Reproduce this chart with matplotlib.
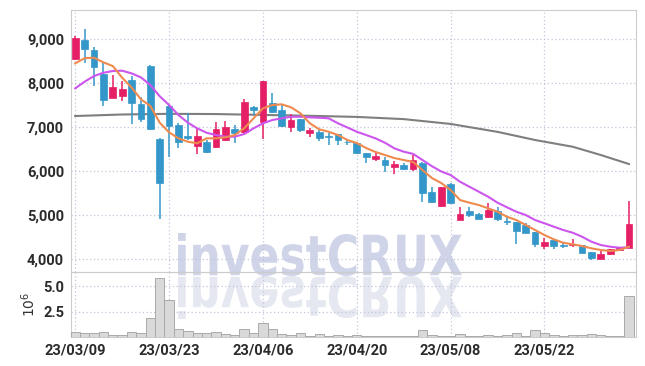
import matplotlib
matplotlib.use('Agg')
import matplotlib.pyplot as plt
import numpy as np
from matplotlib.textpath import TextPath
from matplotlib.patches import PathPatch, Rectangle
from matplotlib.font_manager import FontProperties
from matplotlib.transforms import Affine2D, IdentityTransform

# ---- data ----
opens = [8539, 8977, 8750, 8205, 7666, 7711, 8068, 7523, 8386, 6727,
         7477, 7045, 6795, 6575, 6666, 6539, 6705, 6948, 6880, 7448,
         7107, 7539, 7386, 6993, 7182, 6870, 6893, 6795, 6841, 6666,
         6630, 6416, 6266, 6250, 6098, 6136, 6045, 6189, 5530, 5211,
         5705, 4886, 5091, 5016, 4961, 5091, 4875, 4834, 4773, 4620,
         4302, 4432, 4318, 4311, 4318, 4166, 3993, 4107, 4205, 4243]
highs = [9060, 9225, 8810, 8461, 8175, 8039, 8166, 7689, 8409, 6740,
         7490, 7098, 7311, 6984, 6705, 7107, 7143, 7045, 7636, 7484,
         8050, 7766, 7516, 7295, 7190, 6970, 6932, 6857, 6845, 6727,
         6640, 6420, 6439, 6325, 6227, 6175, 6364, 6195, 5630, 5640,
         5720, 5175, 5175, 5040, 5266, 5175, 4984, 4840, 4811, 4625,
         4470, 4435, 4393, 4447, 4320, 4170, 4205, 4230, 4280, 5325]
lows = [8520, 8455, 7932, 7477, 7650, 7584, 7061, 7107, 6940, 4902,
        6325, 6516, 6705, 6380, 6400, 6516, 6690, 6630, 6857, 7273,
        6727, 7311, 6993, 6880, 6893, 6780, 6690, 6591, 6584, 6591,
        6390, 6175, 6227, 5984, 5932, 6023, 6007, 5289, 5280, 5175,
        5260, 4880, 4961, 4909, 4940, 4870, 4773, 4341, 4584, 4266,
        4220, 4220, 4243, 4280, 4130, 3977, 3990, 4090, 4200, 4240]
closes = [9030, 8780, 8370, 7614, 7902, 7864, 7539, 7182, 6948, 5734,
          7030, 6666, 6750, 6795, 6439, 6955, 6993, 6857, 7575, 7393,
          8045, 7334, 7030, 7159, 6932, 6932, 6757, 6773, 6705, 6652,
          6402, 6325, 6341, 6136, 6159, 6045, 6250, 5493, 5289, 5630,
          5266, 5016, 5000, 4909, 5114, 4909, 4852, 4643, 4598, 4341,
          4393, 4302, 4302, 4341, 4130, 4030, 4114, 4220, 4266, 4795]
volumes = [0.46, 0.36, 0.36, 0.46, 0.16, 0.16, 0.46, 0.36, 1.9, 5.8,
           3.6, 0.82, 0.56, 0.36, 0.36, 0.46, 0.26, 0.16, 0.76, 0.36,
           1.41, 0.82, 0.26, 0.16, 0.36, 0.07, 0.26, 0.07, 0.16, 0.07,
           0.16, 0.07, 0.07, 0.07, 0.07, 0.07, 0.07, 0.66, 0.16, 0.07,
           0.07, 0.26, 0.07, 0.07, 0.16, 0.07, 0.16, 0.36, 0.07, 0.66,
           0.36, 0.16, 0.07, 0.16, 0.16, 0.26, 0.16, 0.07, 0.07, 4.0]
ma_short = [8447, 8565, 8575, 8470, 8386, 8120, 7900, 7630, 7480, 7100,
            6880, 6743, 6666, 6630, 6743, 6743, 6766, 6818, 6970, 7198,
            7425, 7500, 7516, 7448, 7311, 7084, 6948, 6893, 6818, 6705,
            6636, 6523, 6432, 6364, 6295, 6250, 6205, 6023, 5841, 5727,
            5568, 5341, 5280, 5227, 5152, 5075, 4961, 4886, 4773, 4659,
            4545, 4447, 4370, 4334, 4295, 4243, 4205, 4182, 4205, 4280]
ma_mid = [7879, 8030, 8159, 8234, 8273, 8280, 8220, 8129, 7955, 7700,
          7500, 7273, 7098, 6970, 6870, 6818, 6780, 6780, 6841, 6970,
          7084, 7159, 7198, 7234, 7234, 7220, 7212, 7198, 7084, 6990,
          6893, 6818, 6742, 6643, 6516, 6439, 6390, 6250, 6110, 5990,
          5909, 5757, 5643, 5530, 5416, 5280, 5175, 5075, 5000, 4886,
          4811, 4734, 4659, 4598, 4507, 4393, 4318, 4280, 4257, 4266]
ma_long_idx = [0, 5, 10, 15, 20, 25, 30, 35, 40, 45, 49, 53, 56, 59]
ma_long = [7250, 7285, 7300, 7295, 7275, 7255, 7230, 7180, 7070, 6890,
           6705, 6552, 6364, 6159]
tick_idx = [0, 10, 20, 30, 40, 50]
tick_labels = ['23/03/09', '23/03/23', '23/04/06', '23/04/20', '23/05/08', '23/05/22']

UP = '#e51f66'
DOWN = '#3497c9'
GRID = '#c4c6dc'
tfont = FontProperties(family='Roboto', weight='bold', size=10.5)

fig = plt.figure(figsize=(6.45, 3.66), dpi=100)
ax = fig.add_axes([71/645, 1-272/366, 565/645, 262/366])
axv = fig.add_axes([71/645, 1-337/366, 565/645, 65/366], sharex=ax)
for a in (ax, axv):
    a.set_facecolor('none')
    for s in a.spines.values():
        s.set_color('#cccccc')
    a.grid(True, ls=(0, (1, 2)), color=GRID, lw=0.9)
    a.tick_params(length=0, colors='#2b2b2b', pad=5)
    a.set_axisbelow(True)

x = np.arange(len(opens))
w = 0.72
for i in x:
    o, h, l, c = opens[i], highs[i], lows[i], closes[i]
    col = UP if c >= o else DOWN
    ax.vlines(i, l, h, color=col, lw=1.1, zorder=3)
    lo = min(o, c)
    ht = max(abs(c - o), 12)
    ax.add_patch(Rectangle((i - w/2, lo), w, ht, fc=col, ec=col, lw=0.5, zorder=4))

ax.plot(ma_long_idx, ma_long, color='#7f7f7f', lw=1.5, zorder=2)
ax.plot(x, ma_mid, color='#cc55ee', lw=1.5, zorder=5)
ax.plot(x, ma_short, color='#ef8a4f', lw=1.5, zorder=5)

ax.set_ylim(3705, 9660)
ax.set_xlim(-0.45, 59.75)
ax.set_yticks([4000, 5000, 6000, 7000, 8000, 9000])
ax.set_yticklabels(['4,000', '5,000', '6,000', '7,000', '8,000', '9,000'], fontproperties=tfont)
ax.tick_params(axis='x', labelbottom=False)

axv.bar(x, volumes, width=1.0, color='#d9d9d9', edgecolor='#a9a9a9', lw=0.7, zorder=3)
axv.set_ylim(0, 6.4)
axv.set_yticks([2.5, 5.0])
axv.set_yticklabels(['2.5', '5.0'], fontproperties=tfont)
axv.set_xticks(tick_idx)
axv.set_xticklabels(tick_labels, fontproperties=tfont)
axv.set_ylabel(r'$10^6$', fontsize=10, color='#333333', labelpad=4)

# watermark with reflection
tp = TextPath((0, 0), 'investCRUX', size=50,
              prop=FontProperties(family='DejaVu Sans', weight='bold'))
bb = tp.get_extents()
sx, sy = 284 / bb.width, 43 / bb.height
base = 366 - 276
t1 = Affine2D().translate(-bb.x0, -bb.y0).scale(sx, sy).translate(178, base)
t2 = Affine2D().translate(-bb.x0, -bb.y0).scale(sx, -sy).translate(178, base)
fig.add_artist(PathPatch(t1.transform_path(tp), transform=IdentityTransform(),
                         fc='#cfd4e8', ec='none', zorder=-1))
fig.add_artist(PathPatch(t2.transform_path(tp), transform=IdentityTransform(),
                         fc='#e5e8f0', ec='none', zorder=-1))

plt.savefig('out.png', dpi=100)
